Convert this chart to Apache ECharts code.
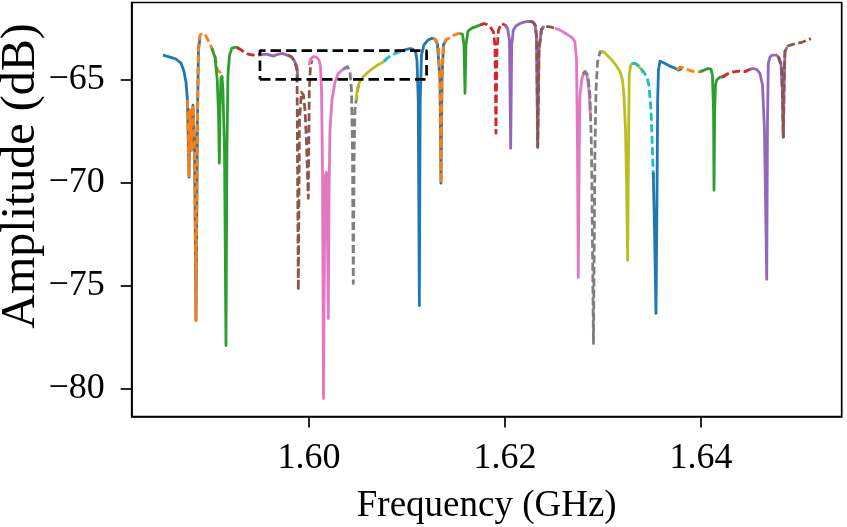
<!DOCTYPE html>
<html>
<head>
<meta charset="utf-8">
<script src="https://cdn.jsdelivr.net/npm/echarts@6/dist/echarts.min.js"></script>
<style>html,body{margin:0;padding:0;background:#fff}#c{width:847px;height:527px}</style>
</head>
<body>
<div id="c"></div>
<script>
// Frequency (GHz), Amplitude (dB) pairs for each fitted segment, left to right
const s01 = [[1.58510,-63.82],[1.58582,-63.92],[1.58643,-64.01],[1.58694,-64.21],[1.58724,-64.60],[1.58745,-65.13],[1.58760,-66.00],[1.58776,-69.74],[1.58786,-66.49],[1.58801,-68.43],[1.58816,-66.25],[1.58832,-67.95],[1.58847,-76.68],[1.58862,-66.98],[1.58872,-63.58],[1.58888,-63.00]];
const s02 = [[1.58760,-66.00],[1.58776,-69.74],[1.58786,-66.49],[1.58801,-68.43],[1.58816,-66.25],[1.58832,-67.95],[1.58847,-76.68],[1.58862,-66.98],[1.58872,-63.33],[1.58888,-62.85],[1.58918,-62.75],[1.58949,-62.90],[1.58980,-63.19],[1.59010,-63.48],[1.59041,-63.87],[1.59066,-64.55],[1.59092,-64.65],[1.59107,-64.69],[1.59117,-64.94]];
const s03 = [[1.59007,-63.48],[1.59041,-63.92],[1.59064,-65.03],[1.59077,-66.73],[1.59085,-69.06],[1.59092,-66.49],[1.59102,-64.94],[1.59112,-64.84],[1.59122,-65.52],[1.59138,-68.43],[1.59153,-77.90],[1.59163,-68.43],[1.59173,-64.79],[1.59189,-63.82],[1.59214,-63.48],[1.59255,-63.43],[1.59286,-63.48]];
const s04 = [[1.59265,-63.46],[1.59296,-63.53],[1.59337,-63.67],[1.59378,-63.77],[1.59429,-63.82],[1.59469,-63.80],[1.59500,-63.77]];
const s05 = [[1.59480,-63.82],[1.59520,-63.80],[1.59571,-63.77],[1.59633,-63.87],[1.59673,-63.80],[1.59724,-63.74],[1.59776,-63.82],[1.59816,-63.89],[1.59847,-64.06],[1.59867,-64.26],[1.59878,-64.45],[1.59888,-65.03]];
const s06 = [[1.59786,-63.82],[1.59827,-63.92],[1.59857,-64.16],[1.59878,-64.55],[1.59891,-75.23],[1.59903,-66.98],[1.59923,-65.62],[1.59944,-65.76],[1.59959,-66.49],[1.59974,-67.95],[1.59993,-70.76],[1.60003,-65.52],[1.60015,-64.35],[1.60031,-64.06]];
const s07 = [[1.60000,-64.31],[1.60020,-63.99],[1.60046,-63.89],[1.60077,-63.92],[1.60102,-64.06],[1.60117,-64.35],[1.60128,-65.52],[1.60138,-69.40],[1.60148,-80.47],[1.60158,-73.29],[1.60168,-69.65],[1.60179,-69.50],[1.60189,-72.80],[1.60197,-76.59],[1.60204,-70.86],[1.60214,-67.46],[1.60235,-66.00],[1.60265,-65.13],[1.60296,-64.74],[1.60337,-64.55],[1.60378,-64.45]];
const s08 = [[1.60347,-64.50],[1.60393,-64.38],[1.60418,-64.65],[1.60434,-65.52],[1.60444,-68.43],[1.60452,-74.89],[1.60461,-68.43],[1.60469,-66.49],[1.60485,-65.91],[1.60500,-65.42],[1.60520,-65.08]];
const s09 = [[1.60480,-66.00],[1.60495,-65.42],[1.60520,-65.08],[1.60561,-64.84],[1.60622,-64.57],[1.60684,-64.35],[1.60755,-64.16],[1.60796,-64.01]];
const s10 = [[1.60765,-64.11],[1.60806,-63.94],[1.60847,-63.82],[1.60888,-63.72],[1.60929,-63.65],[1.60969,-63.60]];
const s11 = [[1.60949,-63.60],[1.60990,-63.55],[1.61031,-63.50],[1.61061,-63.53],[1.61087,-63.67],[1.61102,-64.06],[1.61115,-66.00],[1.61126,-75.96],[1.61135,-66.00],[1.61148,-63.82],[1.61173,-63.33],[1.61214,-63.09],[1.61255,-63.01],[1.61286,-63.04],[1.61311,-63.29],[1.61337,-65.03],[1.61347,-70.03],[1.61357,-65.03],[1.61372,-63.33],[1.61398,-63.09]];
const s12 = [[1.61265,-63.02],[1.61296,-63.09],[1.61321,-63.38],[1.61337,-65.03],[1.61347,-70.03],[1.61357,-65.03],[1.61372,-63.33],[1.61398,-63.07],[1.61429,-63.00],[1.61469,-62.87],[1.61520,-62.78],[1.61561,-62.75]];
const s13 = [[1.61541,-62.78],[1.61566,-62.80],[1.61582,-63.33],[1.61592,-65.67],[1.61602,-63.33],[1.61622,-62.66],[1.61663,-62.51],[1.61704,-62.44],[1.61745,-62.36],[1.61776,-62.32]];
const s14 = [[1.61745,-62.36],[1.61786,-62.29],[1.61827,-62.36],[1.61857,-62.51],[1.61883,-62.70],[1.61898,-63.33],[1.61908,-67.61],[1.61918,-63.58],[1.61934,-62.61],[1.61964,-62.29],[1.62000,-62.36],[1.62020,-62.51]];
const s15 = [[1.62000,-62.36],[1.62026,-62.51],[1.62046,-63.09],[1.62058,-68.33],[1.62069,-63.33],[1.62085,-62.61],[1.62112,-62.41],[1.62153,-62.29],[1.62194,-62.22],[1.62235,-62.19],[1.62276,-62.19],[1.62306,-62.32],[1.62321,-62.85],[1.62334,-68.29],[1.62347,-63.58],[1.62372,-62.61],[1.62398,-62.41]];
const s16 = [[1.62255,-62.19],[1.62286,-62.22],[1.62311,-62.41],[1.62324,-63.09],[1.62334,-68.29],[1.62347,-63.58],[1.62372,-62.56],[1.62408,-62.44],[1.62449,-62.44],[1.62490,-62.49],[1.62531,-62.53]];
const s17 = [[1.62510,-62.51],[1.62561,-62.61],[1.62612,-62.75],[1.62663,-62.90],[1.62694,-63.02],[1.62714,-63.19],[1.62730,-64.06],[1.62740,-68.43],[1.62748,-74.60],[1.62757,-68.92],[1.62765,-65.76],[1.62786,-64.94],[1.62811,-64.62],[1.62837,-64.79],[1.62857,-65.52],[1.62872,-66.73]];
const s18 = [[1.62796,-64.74],[1.62821,-64.62],[1.62847,-64.84],[1.62867,-65.76],[1.62883,-68.43],[1.62903,-77.80],[1.62918,-68.43],[1.62929,-65.52],[1.62944,-64.18],[1.62969,-63.67],[1.63000,-63.67]];
const s19 = [[1.62980,-63.67],[1.63010,-63.67],[1.63072,-63.97],[1.63133,-64.31],[1.63174,-64.62],[1.63199,-65.03],[1.63214,-65.76],[1.63230,-67.46],[1.63240,-69.89],[1.63252,-73.77],[1.63262,-67.46],[1.63268,-64.79],[1.63281,-64.35],[1.63296,-64.22],[1.63327,-64.23],[1.63357,-64.33],[1.63388,-64.48],[1.63408,-64.69]];
const s20 = [[1.63296,-64.23],[1.63327,-64.22],[1.63357,-64.31],[1.63388,-64.48],[1.63418,-64.65],[1.63449,-64.89],[1.63469,-65.28],[1.63490,-66.49],[1.63505,-68.43],[1.63515,-69.89]];
const s21 = [[1.63513,-69.50],[1.63526,-72.32],[1.63541,-76.34],[1.63551,-70.86],[1.63558,-66.00],[1.63566,-64.55],[1.63582,-64.11],[1.63612,-64.18],[1.63653,-64.28],[1.63694,-64.38],[1.63735,-64.45],[1.63768,-64.55],[1.63806,-64.48]];
const s22 = [[1.63755,-64.55],[1.63786,-64.40],[1.63816,-64.43],[1.63854,-64.50],[1.63888,-64.57],[1.63939,-64.63],[1.63990,-64.63],[1.64020,-64.60]];
const s23 = [[1.63990,-64.62],[1.64031,-64.55],[1.64071,-64.47],[1.64102,-64.50],[1.64117,-64.79],[1.64128,-66.49],[1.64133,-70.37],[1.64140,-66.49],[1.64148,-65.28],[1.64160,-65.03],[1.64194,-64.89],[1.64228,-64.87],[1.64265,-64.74]];
const s24 = [[1.64214,-64.89],[1.64255,-64.77],[1.64296,-64.67],[1.64347,-64.62],[1.64398,-64.60],[1.64449,-64.62],[1.64500,-64.51],[1.64541,-64.48]];
const s25 = [[1.64500,-64.50],[1.64534,-64.47],[1.64571,-64.52],[1.64602,-64.71],[1.64628,-65.28],[1.64648,-67.46],[1.64671,-74.69],[1.64679,-66.98],[1.64687,-64.22],[1.64704,-63.92],[1.64724,-63.82],[1.64772,-63.82],[1.64796,-63.94],[1.64816,-64.21],[1.64830,-65.52],[1.64840,-67.80],[1.64849,-65.03],[1.64857,-63.67],[1.64878,-63.43]];
const s26 = [[1.64786,-63.89],[1.64806,-63.98],[1.64821,-64.35],[1.64832,-65.76],[1.64840,-67.80],[1.64849,-65.03],[1.64857,-63.63],[1.64888,-63.38],[1.64929,-63.31],[1.64980,-63.24],[1.65020,-63.22],[1.65061,-63.14],[1.65122,-63.02]];

// Zoom-region rectangle (frequency range, amplitude range)
const boxFreq = [1.595, 1.612];
const boxAmp = [-65.0, -63.6];

// Axis ticks and ranges
const xTicks = [1.60, 1.62, 1.64];
const yTicks = [-80, -75, -70, -65];
const xRange = [1.58191, 1.65436];
const yRange = [-81.34, -61.27];
const xTitle = 'Frequency (GHz)';
const yTitle = 'Amplitude (dB)';

const segments = [s01,s02,s03,s04,s05,s06,s07,s08,s09,s10,s11,s12,s13,s14,s15,s16,s17,s18,s19,s20,s21,s22,s23,s24,s25,s26];
const palette = ['#1f77b4','#ff7f0e','#2ca02c','#d62728','#9467bd','#8c564b','#e377c2','#7f7f7f','#bcbd22','#17becf'];

const series = segments.map((d, i) => ({
  type: 'line',
  data: d,
  showSymbol: false,
  symbol: 'none',
  smooth: false,
  z: 2,
  lineStyle: {
    color: palette[i % 10],
    width: 2.8,
    type: (i % 2 === 1) ? [8, 3.5] : 'solid',
    cap: 'butt',
    join: 'round'
  }
}));

series.push({
  type: 'line',
  data: [[boxFreq[0], boxAmp[0]],[boxFreq[1], boxAmp[0]],[boxFreq[1], boxAmp[1]],[boxFreq[0], boxAmp[1]],[boxFreq[0], boxAmp[0]]],
  showSymbol: false,
  symbol: 'none',
  z: 3,
  lineStyle: { color: '#000', width: 2.7, type: [10.5, 5], cap: 'butt' }
});

const font = 'Liberation Serif, Times New Roman, serif';
const chart = echarts.init(document.getElementById('c'), null, { renderer: 'canvas' });
chart.setOption({
  animation: false,
  backgroundColor: '#fff',
  grid: { left: 131.7, right: 5.3, top: 2.5, bottom: 110.5, show: true, borderColor: '#000', borderWidth: 1.7, containLabel: false, outerBoundsMode: 'none' },
  xAxis: {
    type: 'value', min: xRange[0], max: xRange[1],
    name: xTitle, nameLocation: 'middle', nameGap: 71,
    nameTextStyle: { fontFamily: font, fontSize: 37, color: '#000' },
    axisLine: { show: true, lineStyle: { color: '#000', width: 1.7 } },
    axisTick: { show: true, inside: false, length: 11, customValues: xTicks, lineStyle: { color: '#000', width: 1.7 } },
    axisLabel: { show: true, customValues: xTicks, margin: 24, fontFamily: font, fontSize: 36, color: '#000', formatter: v => v.toFixed(2) },
    splitLine: { show: false }
  },
  yAxis: {
    type: 'value', min: yRange[0], max: yRange[1],
    axisLine: { show: true, lineStyle: { color: '#000', width: 1.7 } },
    axisTick: { show: true, inside: false, length: 11, customValues: yTicks, lineStyle: { color: '#000', width: 1.7 } },
    axisLabel: { show: true, customValues: yTicks, margin: 27, fontFamily: font, fontSize: 36, color: '#000', formatter: v => (v < 0 ? '\u2212' : '') + Math.abs(v) },
    splitLine: { show: false }
  },
  graphic: [{
    type: 'text', x: 21, y: 176, rotation: Math.PI / 2,
    style: { text: yTitle, fontFamily: font, fontSize: 48, fill: '#000', align: 'center', verticalAlign: 'middle' }
  }],
  series: series
});
</script>
</body>
</html>
